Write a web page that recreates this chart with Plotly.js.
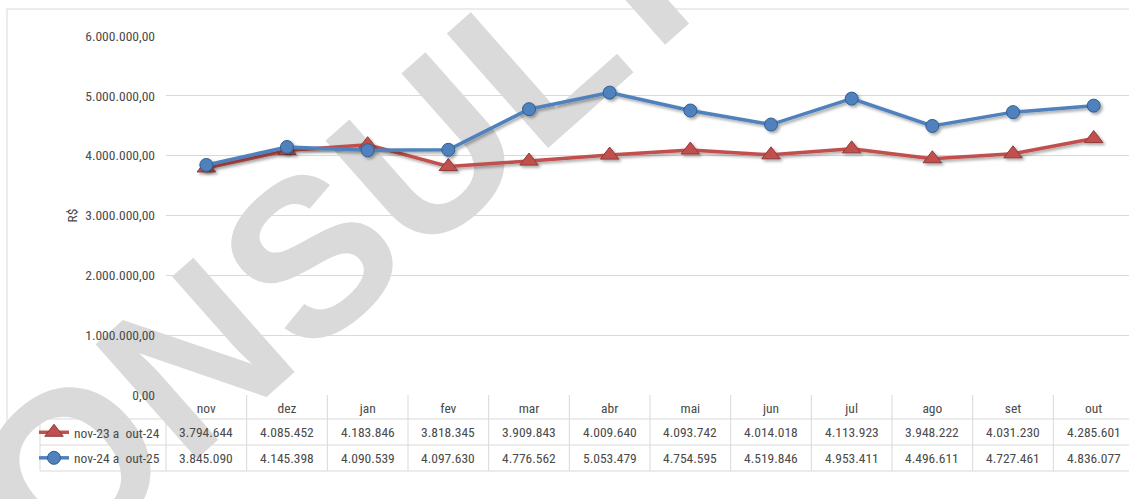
<!DOCTYPE html>
<html><head><meta charset="utf-8">
<script src="https://cdn.plot.ly/plotly-3.0.1.min.js"></script>
<style>html,body{margin:0;padding:0;overflow:hidden;background:#fff}</style>
</head><body><div id="chart"></div>
<script>
// ---- data ----
const months = ['nov','dez','jan','fev','mar','abr','mai','jun','jul','ago','set','out'];
const seriesNames = ['nov-23 a\u00a0 out-24', 'nov-24 a\u00a0 out-25'];
const serie2324 = [3794644, 4085452, 4183846, 3818345, 3909843, 4009640, 4093742, 4014018, 4113923, 3948222, 4031230, 4285601];
const serie2425 = [3845090, 4145398, 4090539, 4097630, 4776562, 5053479, 4754595, 4519846, 4953411, 4496611, 4727461, 4836077];
const yAxisTitle = 'R$';
const watermarkText = 'CONSULTA';

// ---- layout helpers ----
const W = 1140, H = 499, L = 166, R = 6, T = 36, B = 104;
const PW = W - L - R, PH = H - T - B;
const px = x => (x - L) / PW;
const py = y => (T + PH - y) / PH;
const FONT = "'Liberation Sans Narrow', 'Arial Narrow', 'Roboto Condensed', 'Liberation Sans', sans-serif";
const TXT = '#4a4a4a';
const GRID = '#d9d9d9';
const FS = 13.5;

function fmtBR(n) { return String(Math.round(n)).replace(/\B(?=(\d{3})+(?!\d))/g, '.'); }

const idx = months.map((m, i) => i);

const traces = [
  {
    x: idx, y: serie2324, name: seriesNames[0], type: 'scatter', mode: 'lines+markers',
    legendgroup: 'a',
    line: { color: '#c0504d', width: 3.5 },
    marker: { symbol: 'triangle-up', size: 16, color: '#c0504d', line: { color: '#8c3a38', width: 1 } },
    cliponaxis: false
  },
  {
    x: idx, y: serie2425, name: seriesNames[1], type: 'scatter', mode: 'lines+markers',
    legendgroup: 'b',
    line: { color: '#4f81bd', width: 3.5 },
    marker: { symbol: 'circle', size: 13, color: '#4f81bd', line: { color: '#2f5d8f', width: 1 } },
    cliponaxis: false
  }
];

const shapes = [];
// watermark (below everything)
const wmC = [321, 218], wmA = 41.5 * Math.PI / 180, wmH = 100;
shapes.push({
  type: 'line', xref: 'paper', yref: 'paper', layer: 'below',
  x0: px(wmC[0] - wmH * Math.cos(wmA)), y0: py(wmC[1] + wmH * Math.sin(wmA)),
  x1: px(wmC[0] + wmH * Math.cos(wmA)), y1: py(wmC[1] - wmH * Math.sin(wmA)),
  line: { width: 0, color: 'rgba(0,0,0,0)' },
  label: { text: watermarkText, textposition: 'middle', textangle: 'auto', yanchor: 'middle',
           font: { family: "'Liberation Sans Narrow', 'Arial Narrow', sans-serif", size: 222, color: '#dadada', weight: 'bold' } }
});
// outer frame
shapes.push({ type: 'rect', xref: 'paper', yref: 'paper', x0: px(7), y0: py(9), x1: px(1160), y1: py(530),
  line: { color: GRID, width: 1 }, layer: 'below' });
// vertical table / category lines through the table
for (let i = 0; i <= months.length; i++) {
  shapes.push({ type: 'line', xref: 'paper', yref: 'paper', x0: i / months.length, x1: i / months.length,
    y0: 0, y1: py(471), line: { color: GRID, width: 1 } });
}
// legend column left border
shapes.push({ type: 'line', xref: 'paper', yref: 'paper', x0: px(40), x1: px(40), y0: py(419), y1: py(471), line: { color: GRID, width: 1 } });
// horizontal table lines
[419, 445, 471].forEach(yy => shapes.push({ type: 'line', xref: 'paper', yref: 'paper', x0: px(40), x1: 1.02,
  y0: py(yy), y1: py(yy), line: { color: GRID, width: 1 } }));

const annotations = [];
[serie2324, serie2425].forEach((s, r) => {
  const yc = r === 0 ? 432 : 458;
  s.forEach((v, i) => annotations.push({
    x: i, xref: 'x', y: py(yc), yref: 'paper', text: fmtBR(v), showarrow: false,
    xanchor: 'center', yanchor: 'middle', font: { family: FONT, size: FS, color: TXT }
  }));
});

const layout = {
  width: W, height: H,
  margin: { l: L, r: R, t: T, b: B, pad: 0 },
  paper_bgcolor: '#ffffff', plot_bgcolor: '#ffffff',
  separators: ',.',
  showlegend: true,
  legend: { x: px(34), y: py(417), xanchor: 'left', yanchor: 'top', orientation: 'v',
            traceorder: 'grouped', tracegroupgap: 5, bgcolor: 'rgba(0,0,0,0)',
            font: { family: FONT, size: FS, color: TXT }, itemwidth: 30 },
  font: { family: FONT, size: FS, color: TXT },
  xaxis: {
    type: 'linear', range: [-0.5, 11.5], tickmode: 'array', tickvals: idx, ticktext: months,
    showgrid: false, zeroline: false, showline: false, ticks: '', ticklabelstandoff: 3,
    tickfont: { family: FONT, size: FS, color: TXT }
  },
  yaxis: {
    range: [0, 6000000], dtick: 1000000, tickformat: ',.2f', showgrid: true, gridcolor: GRID, gridwidth: 1,
    zeroline: false, showline: false, ticks: '', ticklabelstandoff: 10,
    tickfont: { family: FONT, size: FS, color: TXT },
    title: { text: yAxisTitle, standoff: 4, font: { family: FONT, size: FS, color: TXT } }
  },
  shapes: shapes,
  annotations: annotations
};

Plotly.newPlot('chart', traces, layout, { displayModeBar: false, staticPlot: true }).then(gd => {
  // soft drop shadow on the series, like the original
  const svg = gd.querySelector('.main-svg');
  const ns = 'http://www.w3.org/2000/svg';
  let defs = svg.querySelector('defs');
  const f = document.createElementNS(ns, 'filter');
  f.setAttribute('id', 'shadow'); f.setAttribute('x', '-20%'); f.setAttribute('y', '-20%');
  f.setAttribute('width', '140%'); f.setAttribute('height', '140%');
  const ds = document.createElementNS(ns, 'feDropShadow');
  ds.setAttribute('dx', '2'); ds.setAttribute('dy', '2'); ds.setAttribute('stdDeviation', '1.5');
  ds.setAttribute('flood-color', '#000'); ds.setAttribute('flood-opacity', '0.35');
  f.appendChild(ds); defs.appendChild(f);
  gd.querySelectorAll('.scatterlayer .trace').forEach(t => t.setAttribute('filter', 'url(#shadow)'));
});
</script>
</body></html>
